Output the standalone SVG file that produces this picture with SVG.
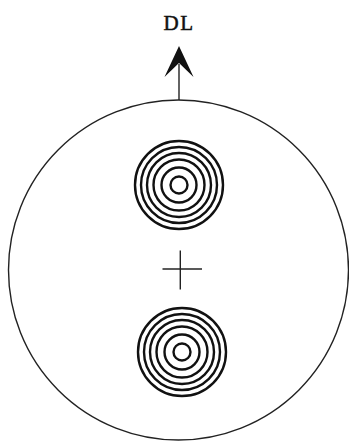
<svg xmlns="http://www.w3.org/2000/svg" width="349" height="442" viewBox="0 0 349 442">
<style>
.ring{fill:none;stroke:#111;stroke-width:2.4}
.thin{fill:none;stroke:#222;stroke-width:1.4}
.lbl{font-family:"Liberation Serif","DejaVu Serif",serif;font-size:21px;fill:#111;stroke:#111;stroke-width:0.5;text-anchor:middle}
</style>
<defs>
<g id="target">
<circle class="ring" r="44"/>
<circle class="ring" r="38"/>
<circle class="ring" r="32"/>
<circle class="ring" r="25.5"/>
<circle class="ring" r="17.5"/>
<circle class="ring" r="8.5"/>
</g>
</defs>
<rect width="349" height="442" fill="#fff"/>
<g id="outline">
<circle class="thin" cx="178.5" cy="270" r="170"/>
</g>
<g id="connectors">
<line class="thin" x1="179" y1="64" x2="179" y2="100"/>
<path d="M179,46 L193.5,77 L179,63 L164.5,77 Z" fill="#111"/>
</g>
<g id="label-dl">
<text class="lbl" x="179" y="30" letter-spacing="1.5">DL</text>
</g>
<g id="upper-target">
<use href="#target" x="179" y="185"/>
</g>
<g id="center-cross">
<line class="thin" x1="180.3" y1="250.5" x2="180.3" y2="289.5"/>
<line class="thin" x1="162.5" y1="269" x2="202" y2="269"/>
</g>
<g id="lower-target">
<use href="#target" x="182" y="352"/>
</g>
</svg>
